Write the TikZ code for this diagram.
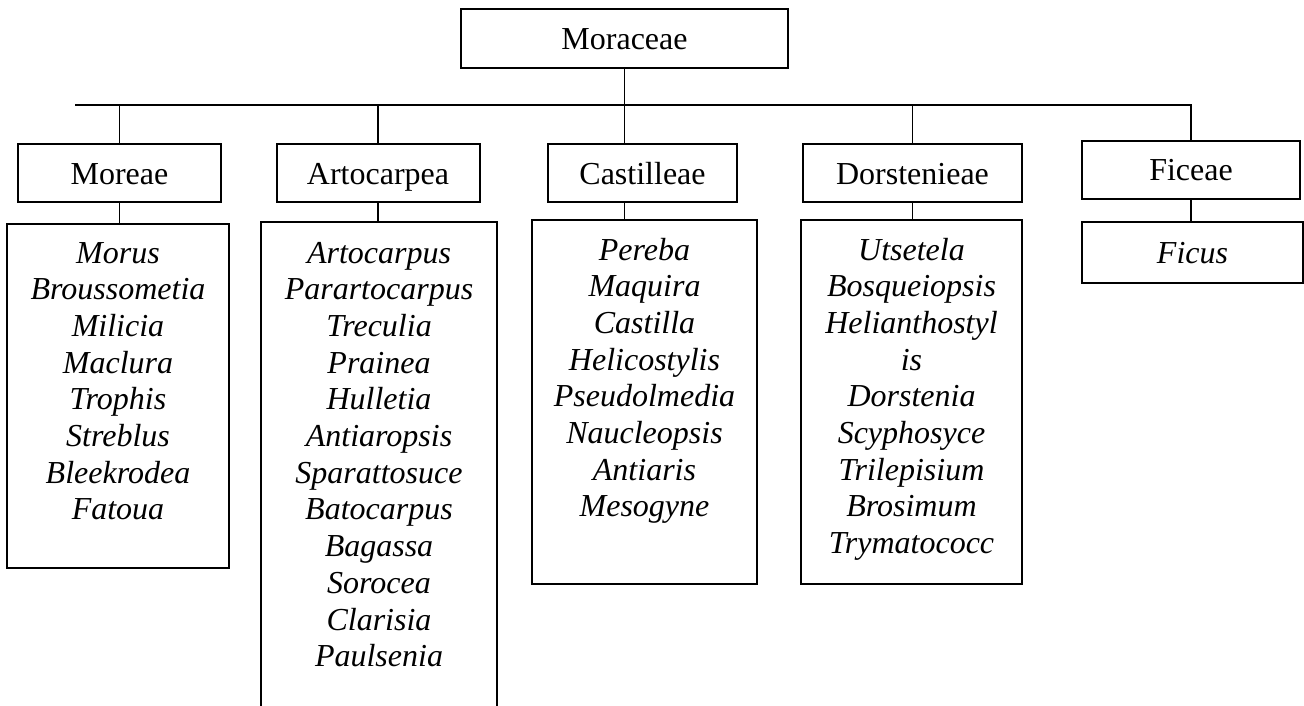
\documentclass[tikz,border=0pt]{standalone}
\usepackage{fontspec}
\setmainfont{Liberation Serif}
\usetikzlibrary{positioning, calc}

\begin{document}
\begin{tikzpicture}[
    x=1pt, y=-1pt,
    every node/.style={font=\fontsize{32}{36.7}\selectfont},
    family/.style={rectangle, draw, line width=2pt, inner sep=0pt, minimum width=327pt, minimum height=59pt, text height=41pt, text depth=18pt, anchor=north},
    tribe/.style={rectangle, draw, line width=2pt, inner sep=0pt, minimum height=58pt, text height=40pt, text depth=18pt, anchor=north},
    genera/.style={rectangle, draw, line width=2pt, inner sep=0pt, align=center, anchor=north, font=\fontsize{32}{36.7}\selectfont\itshape},
    link/.style={draw, line width=1.8pt}
]
\useasboundingbox (0,0) rectangle (1304,706);
\clip (0,0) rectangle (1304,706);

% Nodes
\node[family] (moraceae) at (624.5,8) {Moraceae};

\node[tribe, minimum width=203pt] (moreae) at (119.5,143) {Moreae};
\node[tribe, minimum width=203pt] (artocarpea) at (378,143) {Artocarpea};
\node[tribe, minimum width=189pt] (castilleae) at (642.5,143) {Castilleae};
\node[tribe, minimum width=219pt] (dorstenieae) at (912.5,143) {Dorstenieae};
\node[tribe, minimum width=218pt] (ficeae) at (1191,140) {Ficeae};

\node[genera, text width=222pt, text height=39pt, text depth=305pt] (moreae-gen) at (118,223)
    {Morus\\Broussometia\\Milicia\\Maclura\\Trophis\\Streblus\\Bleekrodea\\Fatoua};
\node[genera, text width=236pt, text height=41pt, text depth=500pt] (artocarpea-gen) at (379,221)
    {Artocarpus\\Parartocarpus\\Treculia\\Prainea\\Hulletia\\Antiaropsis\\Sparattosuce\\Batocarpus\\Bagassa\\Sorocea\\Clarisia\\Paulsenia};
\node[genera, text width=225pt, text height=40pt, text depth=324pt] (castilleae-gen) at (644.5,219)
    {Pereba\\Maquira\\Castilla\\Helicostylis\\Pseudolmedia\\Naucleopsis\\Antiaris\\Mesogyne};
\node[genera, text width=221pt, text height=40pt, text depth=324pt] (dorstenieae-gen) at (911.5,219)
    {Utsetela\\Bosqueiopsis\\Helianthostyl\\is\\Dorstenia\\Scyphosyce\\Trilepisium\\Brosimum\\Trymatococc};
\node[genera, text width=221pt, text height=41pt, text depth=20pt] (ficeae-gen) at (1192.5,221) {Ficus};

% Lines
\coordinate (bus) at (75,105);
\draw[link] (bus) -- (ficeae.north |- bus) -- (ficeae.north);
\draw[link] (moraceae.south) -- (moraceae.south |- castilleae.north);
\draw[link] (moreae.north |- bus) -- (moreae.north);
\draw[link] (artocarpea.north |- bus) -- (artocarpea.north);
\draw[link] (dorstenieae.north |- bus) -- (dorstenieae.north);

\draw[link] (moreae.south) -- (moreae.south |- moreae-gen.north);
\draw[link] (artocarpea.south) -- (artocarpea.south |- artocarpea-gen.north);
\draw[link] (moraceae.south |- castilleae.south) -- (moraceae.south |- castilleae-gen.north);
\draw[link] (dorstenieae.south) -- (dorstenieae.south |- dorstenieae-gen.north);
\draw[link] (ficeae.south) -- (ficeae.south |- ficeae-gen.north);

\end{tikzpicture}
\end{document}
